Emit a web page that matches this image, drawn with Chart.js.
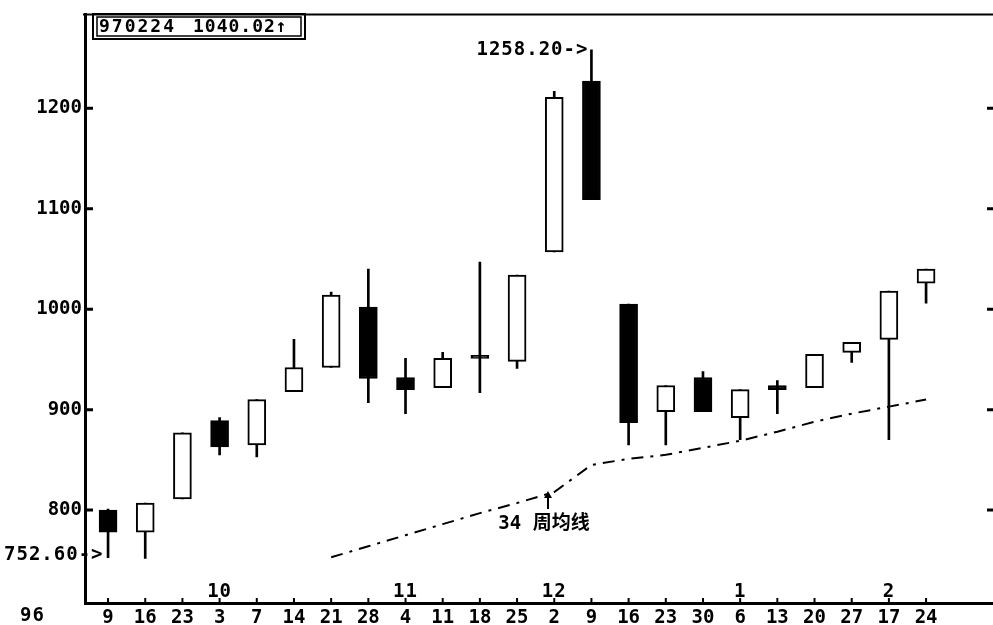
<!DOCTYPE html>
<html>
<head>
<meta charset="utf-8">
<script src="https://cdn.jsdelivr.net/npm/chart.js@4.4.1/dist/chart.umd.min.js"></script>
<style>
  html, body { margin: 0; padding: 0; background: #fff; }
  #wrap { width: 993px; height: 625px; }
</style>
</head>
<body>
<div id="wrap"><canvas id="kChart" width="993" height="625"></canvas></div>
<script>
// Weekly K-line, Sep 1996 - Feb 1997
const weekLabels = ["9", "16", "23", "3", "7", "14", "21", "28", "4", "11", "18", "25",
                    "2", "9", "16", "23", "30", "6", "13", "20", "27", "17", "24"];
const monthMarks = { 3: "10", 8: "11", 12: "12", 17: "1", 21: "2" };

const opens  = [800, 778, 811, 889, 865, 918, 942, 1002, 932, 922, 954, 948,
                1057, 1227, 1005, 898, 932, 892, 924, 922, 957, 970, 1026];
const highs  = [801, 807, 877, 892, 910, 970, 1017, 1040, 951, 957, 1047, 1034,
                1217, 1258.2, 1005, 924, 938, 920, 929, 955, 967, 1018, 1040.02];
const lows   = [752.6, 752, 811, 855, 853, 918, 942, 907, 896, 922, 917, 941,
                1057, 1109, 865, 865, 898, 870, 896, 922, 947, 870, 1006];
const closes = [778, 807, 877, 863, 910, 942, 1014, 931, 920, 951, 951, 1034,
                1211, 1109, 887, 924, 898, 920, 920, 955, 967, 1018, 1040.02];

// 34-week moving average, starts at week index 6
const maStart = 6;
const ma34 = [753, 764, 775, 786, 797, 807, 818, 845, 851, 855, 862, 869, 878, 888, 896, 903, 910];

const yTicks = [800, 900, 1000, 1100, 1200];
const lowMark = 752.6;
const highMark = 1258.2;
const lastDate = "970224";
const lastClose = 1040.02;

const FONT = '"DejaVu Sans Mono", "Noto Sans CJK SC", monospace';
const idx = weekLabels.map((_, i) => i);
const isDown = idx.map(i => closes[i] < opens[i]);

const wickData = idx.map(i => ({ x: i, y: [lows[i], highs[i]] }));
const bodyData = idx.map(i => ({ x: i, y: [opens[i], closes[i]] }));
const maData = ma34.map((v, k) => ({ x: maStart + k, y: v }));

// frame, tick stubs and text notes
const extras = {
  id: "extras",
  afterDraw(chart) {
    const { ctx, chartArea: a, scales: { x, y } } = chart;
    ctx.save();
    ctx.strokeStyle = "#000";
    ctx.fillStyle = "#000";

    // top frame line
    ctx.lineWidth = 2;
    ctx.beginPath();
    ctx.moveTo(a.left - 2, a.top);
    ctx.lineTo(a.right, a.top);
    ctx.stroke();

    // y tick stubs, inside on the left and at the right edge
    ctx.lineWidth = 3;
    yTicks.forEach(v => {
      const py = y.getPixelForValue(v);
      ctx.beginPath();
      ctx.moveTo(a.left, py);
      ctx.lineTo(a.left + 8, py);
      ctx.moveTo(a.right - 6, py);
      ctx.lineTo(a.right, py);
      ctx.stroke();
    });

    // x tick stubs
    ctx.lineWidth = 2;
    idx.forEach(i => {
      const px = x.getPixelForValue(i);
      ctx.beginPath();
      ctx.moveTo(px, a.bottom);
      ctx.lineTo(px, a.bottom - 5);
      ctx.stroke();
    });

    ctx.font = "bold 19px " + FONT;
    ctx.textBaseline = "middle";
    ctx.letterSpacing = "1px";

    // month numbers above the axis
    ctx.textAlign = "center";
    Object.keys(monthMarks).forEach(k => {
      ctx.fillText(monthMarks[k], x.getPixelForValue(+k), a.bottom - 11);
    });
    ctx.textAlign = "left";
    ctx.fillText("96", 20, 616);

    // low / high notes
    ctx.fillText(lowMark.toFixed(2) + "->", 4, y.getPixelForValue(lowMark) - 3);
    ctx.textAlign = "right";
    ctx.fillText(highMark.toFixed(2) + "->", x.getPixelForValue(13) - 3, y.getPixelForValue(highMark));

    // moving average label with arrow
    ctx.textAlign = "center";
    ctx.letterSpacing = "0px";
    ctx.fillText("34 周均线", 544, 524);
    ctx.lineWidth = 2;
    ctx.beginPath();
    ctx.moveTo(548, 509);
    ctx.lineTo(548, 496);
    ctx.stroke();
    ctx.beginPath();
    ctx.moveTo(544, 498);
    ctx.lineTo(548, 491);
    ctx.lineTo(552, 498);
    ctx.closePath();
    ctx.fill();

    // last-week box
    ctx.lineWidth = 2;
    ctx.strokeRect(93, 14, 212, 25);
    ctx.lineWidth = 1.5;
    ctx.strokeRect(97, 17, 204, 19);
    ctx.font = "bold 18px " + FONT;
    ctx.letterSpacing = "2px";
    ctx.textAlign = "left";
    ctx.fillText(lastDate, 99, 27);
    ctx.letterSpacing = "1px";
    ctx.fillText(lastClose.toFixed(2) + "↑", 193, 27);

    ctx.restore();
  }
};

const ctx = document.getElementById("kChart").getContext("2d");
new Chart(ctx, {
  type: "bar",
  data: {
    datasets: [
      {
        type: "line",
        data: maData,
        borderColor: "#000",
        borderWidth: 2,
        borderDash: [12, 7, 3, 7],
        pointRadius: 0,
        tension: 0,
        order: 1,
      },
      {
        data: bodyData,
        grouped: false,
        barThickness: 18,
        backgroundColor: idx.map(i => (isDown[i] ? "#000" : "#fff")),
        borderColor: "#000",
        borderWidth: 2,
        borderSkipped: false,
        order: 2,
      },
      {
        data: wickData,
        grouped: false,
        barThickness: 2,
        backgroundColor: "#000",
        borderWidth: 0,
        order: 3,
      },
    ],
  },
  options: {
    responsive: false,
    animation: false,
    layout: { padding: { top: 14, right: 0, left: 0, bottom: 0 } },
    plugins: {
      legend: { display: false },
      tooltip: { enabled: false },
    },
    scales: {
      x: {
        type: "linear",
        offset: false,
        min: -0.62,
        max: 23.8,
        afterBuildTicks: s => { s.ticks = idx.map(v => ({ value: v })); },
        afterFit: s => { s.height = 22; },
        grid: { display: false, drawTicks: false },
        border: { color: "#000", width: 3 },
        ticks: {
          callback: v => weekLabels[v],
          autoSkip: false,
          maxRotation: 0,
          padding: 4,
          color: "#000",
          font: { family: FONT, size: 19, weight: "bold" },
        },
      },
      y: {
        min: 707.5,
        max: 1293.5,
        afterBuildTicks: s => { s.ticks = yTicks.map(v => ({ value: v })); },
        afterFit: s => { s.width = 85; },
        grid: { display: false, drawTicks: false },
        border: { color: "#000", width: 3 },
        ticks: {
          callback: v => String(v),
          padding: 3,
          color: "#000",
          font: { family: FONT, size: 19, weight: "bold" },
        },
      },
    },
  },
  plugins: [extras],
});
</script>
</body>
</html>
